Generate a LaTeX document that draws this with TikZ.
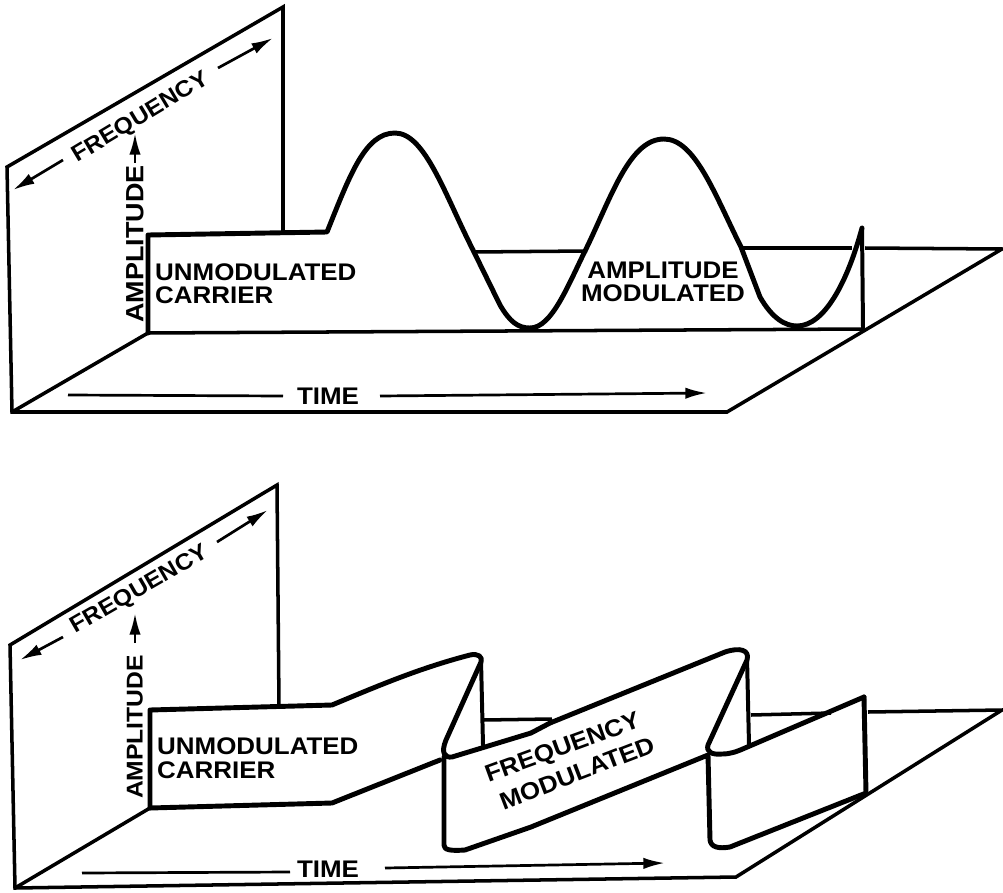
\documentclass[tikz,border=0pt]{standalone}
\usepackage{fontspec}
\usetikzlibrary{arrows.meta}
\newfontfamily\platefont[FakeStretch=1.08]{Liberation Sans}
\tikzset{
  >={Latex[length=6.5mm,width=3.4mm]},
  every node/.style={font=\platefont\bfseries\fontsize{20.5pt}{23pt}\selectfont,text=black,inner sep=0pt,align=left},
  walltext/.style={font=\platefont\bfseries\fontsize{19.5pt}{23pt}\selectfont},
  plane/.style={line width=3pt,line join=miter,draw=black},
  wave/.style={line width=4.2pt,line join=round,line cap=round,draw=black},
  thinwave/.style={line width=3.4pt,line join=round,line cap=round,draw=black},
  axis/.style={->,line width=2.3pt,draw=black},
  axisline/.style={line width=2.3pt,draw=black},
}
\begin{document}
\begin{tikzpicture}[x=0.03cm,y=-0.03cm]
\useasboundingbox (0,0) rectangle (1003,893);

\node[rotate=31,walltext] (freqa) at (141,118) {FREQUENCY};
\node[rotate=90,walltext,font=\platefont\bfseries\fontsize{21.3pt}{23pt}\selectfont] (ampa) at (135,244) {AMPLITUDE};
\node (timea) at (328,396) {TIME};
\node[anchor=west] (unmoda) at (155,272) {UNMODULATED};
\node[anchor=west] (carra) at (155,295) {CARRIER};
\node (amoda) at (663,270) {AMPLITUDE};
\node (amodb) at (663,293) {MODULATED};

\coordinate (fa1) at (63,160);
\coordinate (fa2) at (13,190);
\coordinate (fa3) at (218,68);
\coordinate (fa4) at (273,38);
\coordinate (aa1) at (135,163);
\coordinate (aa2) at (135,133);
\coordinate (ta1) at (68,395);
\coordinate (ta2) at (283,396);
\coordinate (ta3) at (380,396);
\coordinate (ta4) at (707,393);

\draw[plane] (283,232) -- (283,7) -- (7,167) -- (12,412) -- (727,412) -- (1002,249) -- (865,248);
\draw[plane] (852,248) -- (741,248);
\draw[plane] (587,251) -- (473,252);
\draw[plane] (12,412) -- (148,333);
\draw[plane] (148,333) -- (863,329);
\draw[axis] (fa1) -- (fa2);
\draw[axis] (fa3) -- (fa4);
\draw[axis] (aa1) -- (aa2);
\draw[axisline] (ta1) -- (ta2);
\draw[axis] (ta3) -- (ta4);

\draw[wave] (148,333) -- (148,235) -- (327,232)
  .. controls (350,175) and (365,133) .. (395,133)
  .. controls (425,133) and (445,195) .. (473,250)
  -- (500,305)
  .. controls (510,322) and (518,328) .. (530,328)
  .. controls (552,328) and (568,285) .. (587,247)
  .. controls (612,195) and (630,139) .. (664,139)
  .. controls (695,139) and (715,195) .. (741,247)
  -- (760,297)
  .. controls (772,318) and (785,326) .. (797,326)
  .. controls (825,326) and (848,280) .. (862,228);
\draw[thinwave] (862,228) -- (863,328);

\node[rotate=30,walltext] (freqb) at (140,590) {FREQUENCY};
\node[rotate=90,walltext] (ampb) at (135,727) {AMPLITUDE};
\node (timeb) at (328,869) {TIME};
\node[anchor=west] (unmodb) at (157,746) {UNMODULATED};
\node[anchor=west] (carrb) at (157,770) {CARRIER};
\node[rotate=20] (fmoda) at (563,749) {FREQUENCY};
\node[rotate=21] (fmodb) at (577,773) {MODULATED};

\coordinate (fb1) at (63,637);
\coordinate (fb2) at (20,660);
\coordinate (fb3) at (217,542);
\coordinate (fb4) at (268,510);
\coordinate (ab1) at (135,643);
\coordinate (ab2) at (135,613);
\coordinate (tb1) at (82,873);
\coordinate (tb2) at (290,872);
\coordinate (tb3) at (385,868);
\coordinate (tb4) at (665,863);

\draw[plane] (279,707) -- (277,485) -- (10,645) -- (15,888) -- (736,877) -- (1002,710) -- (868,712);
\draw[plane] (831,713) -- (751,715);
\draw[plane] (552,719) -- (483,720);
\draw[plane] (15,888) -- (150,808);
\draw[axis] (fb1) -- (fb2);
\draw[axis] (fb3) -- (fb4);
\draw[axis] (ab1) -- (ab2);
\draw[axisline] (tb1) -- (tb2);
\draw[axis] (tb3) -- (tb4);

\draw[wave] (150,808) -- (150,710) -- (332,705)
  .. controls (380,685) and (420,668) .. (470,655)
  .. controls (478,653) and (483,657) .. (481,662)
  -- (446,740)
  .. controls (441,752) and (444,758) .. (452,757)
  -- (531,733) -- (550,723)
  -- (725,652)
  .. controls (740,647) and (750,650) .. (747,660)
  -- (708,745)
  .. controls (706,752) and (712,755) .. (722,754)
  .. controls (730,754) and (736,752) .. (745,748)
  -- (864,697);
\draw[wave] (150,808) -- (332,803) -- (440,760);
\draw[wave] (444,757) -- (444,845)
  .. controls (444,850) and (450,851) .. (465,850)
  -- (531,827) -- (708,755) -- (710,840)
  .. controls (711,847) and (718,849) .. (730,847)
  -- (866,793) -- (864,697);
\draw[thinwave] (481,660) -- (483,745);
\draw[thinwave] (747,657) -- (749,745);
\end{tikzpicture}
\end{document}
